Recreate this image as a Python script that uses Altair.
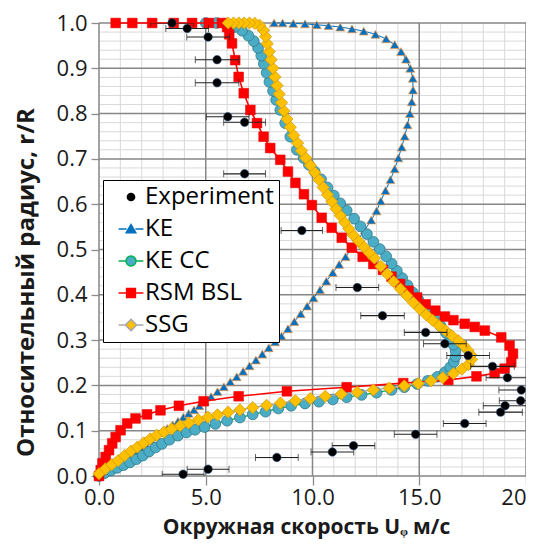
import altair as alt
import pandas as pd

# ---------------- data (u = tangential velocity m/s, r = r/R) ----------------
ke = [(0.0,0.0),(0.2,0.006),(0.45,0.013),(0.7,0.021),(0.95,0.029),(1.2,0.037),(1.45,0.045),
      (1.7,0.053),(1.95,0.061),(2.2,0.069),(2.45,0.078),(2.7,0.087),(2.95,0.096),(3.2,0.105),
      (3.45,0.113),(3.7,0.121),(3.95,0.13),(4.2,0.138),(4.45,0.146),(4.7,0.155),(4.95,0.165),
      (5.25,0.175),(5.55,0.186),(5.85,0.197),(6.15,0.208),(6.45,0.219),(6.75,0.231),(7.05,0.243),
      (7.35,0.256),(7.65,0.269),(7.95,0.283),(8.25,0.296),(8.55,0.309),(8.85,0.325),(9.15,0.341),
      (9.45,0.358),(9.75,0.375),(10.05,0.393),(10.35,0.411),(10.65,0.43),(10.95,0.449),(11.25,0.467),
      (11.55,0.484),(11.85,0.503),(12.15,0.523),(12.45,0.543),(12.75,0.565),(13.0,0.585),(13.2,0.607),
      (13.42,0.63),(13.65,0.654),(13.85,0.678),(14.02,0.702),(14.18,0.726),(14.32,0.75),(14.45,0.775),
      (14.56,0.8),(14.65,0.826),(14.71,0.852),(14.7,0.878),(14.58,0.9),(14.38,0.92),(14.15,0.937),
      (13.85,0.952),(13.45,0.965),(12.95,0.975),(12.4,0.982),(11.85,0.987),(11.3,0.991),(10.75,0.994),
      (10.2,0.996),(9.65,0.998),(9.1,0.999),(8.6,1.0),(8.2,1.0)]

ke_cc = [(0.0,0.0),(0.25,0.006),(0.55,0.012),(0.85,0.018),(1.15,0.024),(1.45,0.03),(1.75,0.037),
         (2.05,0.045),(2.35,0.054),(2.65,0.063),(2.95,0.071),(3.3,0.08),(3.7,0.089),(4.1,0.096),
         (4.5,0.102),(4.95,0.108),(5.45,0.115),(6.0,0.122),(6.6,0.129),(7.2,0.136),(7.8,0.142),
         (8.4,0.149),(9.0,0.155),(9.65,0.16),(10.3,0.164),(10.95,0.169),(11.6,0.174),(12.3,0.179),
         (13.0,0.184),(13.7,0.19),(14.3,0.196),(14.9,0.203),(15.4,0.21),(15.85,0.219),(16.2,0.229),
         (16.45,0.24),(16.62,0.252),(16.7,0.264),(16.7,0.277),(16.6,0.29),(16.45,0.303),(16.25,0.316),
         (16.0,0.331),(15.72,0.346),(15.42,0.362),(15.18,0.376),(14.95,0.39),(14.7,0.405),(14.45,0.421),
         (14.2,0.437),(13.95,0.453),(13.7,0.469),(13.45,0.485),(13.15,0.501),(12.85,0.517),(12.55,0.534),
         (12.25,0.551),(11.95,0.568),(11.6,0.586),(11.3,0.602),(11.0,0.619),(10.7,0.637),(10.4,0.655),
         (10.1,0.672),(9.83,0.687),(9.58,0.702),(9.27,0.72),(8.96,0.749),(8.72,0.779),(8.49,0.808),
         (8.3,0.83),(8.15,0.85),(7.98,0.87),(7.85,0.89),(7.72,0.91),(7.6,0.928),(7.45,0.945),
         (7.25,0.96),(7.0,0.972),(6.7,0.983),(6.35,0.991),(5.95,0.997),(5.5,1.0),(5.0,1.0)]

rsm_bsl = [(0.0,0.0),(0.08,0.013),(0.16,0.028),(0.31,0.042),(0.47,0.057),(0.62,0.072),(0.78,0.086),
           (1.01,0.101),(1.32,0.116),(1.71,0.127),(2.25,0.136),(2.88,0.145),(3.74,0.155),(4.9,0.165),
           (6.54,0.176),(8.8,0.187),(11.6,0.196),(14.25,0.205),(16.36,0.212),(17.68,0.22),(18.53,0.227),
           (19.0,0.237),(19.31,0.251),(19.39,0.27),(19.23,0.288),(18.84,0.306),(18.07,0.321),(17.6,0.329),
           (17.13,0.336),(16.6,0.344),(16.2,0.352),(15.75,0.365),(15.3,0.379),(14.9,0.394),(14.5,0.409),
           (14.1,0.424),(13.7,0.44),(13.3,0.455),(12.85,0.468),(12.35,0.484),(11.84,0.504),(11.37,0.526),
           (10.9,0.548),(10.43,0.57),(9.97,0.598),(9.6,0.622),(9.2,0.647),(8.85,0.672),(8.49,0.698),
           (8.02,0.724),(7.71,0.749),(7.4,0.779),(7.09,0.808),(6.78,0.845),(6.54,0.881),(6.38,0.918),
           (6.23,0.955),(6.1,0.975),(6.0,0.991),(5.76,1.0),(5.14,1.0),(4.36,1.0),(3.5,1.0),(2.49,1.0),
           (1.56,1.0),(0.78,1.0)]

ssg = [(0.0,0.005),(0.3,0.016),(0.6,0.025),(0.9,0.034),(1.2,0.045),(1.5,0.055),(1.8,0.064),
       (2.1,0.073),(2.4,0.082),(2.7,0.09),(3.05,0.097),(3.4,0.104),(3.8,0.111),(4.2,0.117),(4.65,0.124),
       (5.1,0.13),(5.55,0.135),(6.05,0.141),(6.6,0.146),(7.2,0.151),(7.85,0.156),(8.5,0.161),(9.2,0.166),
       (9.9,0.171),(10.6,0.176),(11.35,0.181),(12.1,0.185),(12.85,0.19),(13.6,0.194),(14.3,0.199),
       (14.95,0.204),(15.55,0.21),(16.1,0.217),(16.6,0.226),(17.0,0.236),(17.3,0.246),(17.45,0.257),
       (17.42,0.267),(17.28,0.277),(17.08,0.288),(16.82,0.299),(16.52,0.31),(16.22,0.321),(15.92,0.332),
       (15.62,0.344),(15.32,0.356),(15.02,0.369),(14.72,0.383),(14.42,0.398),(14.12,0.413),(13.8,0.429),
       (13.5,0.446),(13.2,0.463),(12.9,0.481),(12.65,0.493),(12.4,0.506),(12.15,0.519),(11.9,0.532),
       (11.7,0.546),(11.5,0.56),(11.3,0.575),(11.1,0.59),(10.9,0.606),(10.7,0.621),(10.5,0.637),
       (10.3,0.654),(10.1,0.67),(9.9,0.686),(9.68,0.702),(9.48,0.718),(9.3,0.735),(9.12,0.752),
       (8.96,0.77),(8.8,0.788),(8.66,0.806),(8.55,0.824),(8.44,0.843),(8.34,0.862),(8.24,0.881),
       (8.15,0.9),(8.06,0.919),(7.97,0.937),(7.88,0.954),(7.8,0.97),(7.7,0.984),(7.52,0.995),
       (7.3,0.999),(7.05,1.0),(6.8,1.0),(6.55,1.0),(6.3,1.0),(6.05,1.0)]

exp_u = [3.42,4.13,5.11,5.53,5.53,6.03,6.82,6.82,9.5,12.1,13.28,15.3,16.2,17.29,18.43,19.13,
         19.78,19.75,19.02,18.81,17.13,14.83,11.92,10.93,8.33,5.11,3.94]
exp_r = [1.0,0.988,0.969,0.919,0.868,0.793,0.781,0.667,0.542,0.416,0.354,0.317,0.292,0.266,0.242,
         0.217,0.19,0.166,0.155,0.141,0.116,0.092,0.067,0.053,0.041,0.015,0.004]
exp_err = [1.0,1.0,1.0,1.02,1.02,1.0,0.98,0.98,0.97,1.0,1.02,1.0,1.0,1.0,1.02,1.0,1.05,1.0,
           1.02,1.02,1.0,1.0,1.0,1.0,1.0,0.98,0.98]

x_major = [0, 5, 10, 15, 20]
y_major = [0.0, 0.1, 0.2, 0.3, 0.4, 0.5, 0.6, 0.7, 0.8, 0.9, 1.0]
x_minor = [v for v in range(0, 21) if v % 5 != 0]
y_minor = [round(k * 0.02, 2) for k in range(51) if k % 5 != 0]

series_names = ["Experiment", "KE", "KE CC", "RSM BSL", "SSG"]
legend_fill = ["#000000", "#0070C0", "#4BACC6", "#FF0000", "#FFC000"]
legend_line = ["#000000", "#0070C0", "#00B050", "#FF0000", "#A6A6A6"]
legend_shapes = [
    "M0.9,0A0.9,0.9 0 1,1 -0.9,0A0.9,0.9 0 1,1 0.9,0Z",
    "M-3.1,0H-1.1M1.1,0H3.1M0,-1.1L1.2,0.95H-1.2Z",
    "M-3.1,0H-1.25M1.25,0H3.1M1.25,0A1.25,1.25 0 1,1 -1.25,0A1.25,1.25 0 1,1 1.25,0Z",
    "M-3.1,0H-1.1M1.1,0H3.1M-1.1,-1.1H1.1V1.1H-1.1Z",
    "M-3.1,0H-1.4M1.4,0H3.1M0,-1.4L1.4,0L0,1.4L-1.4,0Z",
]

FONT = "Open Sans"
TXT = "#1a1a1a"
XS = alt.Scale(domain=[0, 20], nice=False, zero=False)
YS = alt.Scale(domain=[0, 1], nice=False, zero=False)

AX_X = alt.Axis(values=x_major, grid=False, domain=False, tickSize=9,
                labelExpr="datum.value == 20 ? '20' : format(datum.value, '.1f')",
                labelAlign={"condition": {"test": "datum.value == 20", "value": "right"},
                            "value": "center"},
                tickColor="#8c8c8c", tickWidth=1.3, labelFont=FONT, labelFontSize=22,
                labelColor=TXT, labelPadding=2, labelFlush=False, labelOverlap=False,
                title="Окружная скорость U\u1d69 м/с", titleFont=FONT, titleFontSize=21,
                titleFontWeight="bold", titleColor=TXT, titleX=207, titleY=57,
                titleAlign="center", titleBaseline="alphabetic")
AX_Y = alt.Axis(values=y_major, format=".1f", grid=False, domain=False, tickSize=8,
                tickColor="#8c8c8c", tickWidth=1.3, labelFont=FONT, labelFontSize=22,
                labelColor=TXT, labelPadding=4, labelFlush=False, labelOverlap=False,
                title="Относительный радиус, r/R", titleFont=FONT, titleFontSize=24,
                titleFontWeight="bold", titleColor=TXT, titleAngle=270, titleX=-66,
                titleY=259, titleAlign="center", titleBaseline="alphabetic")


def qx(f):
    return alt.X(f, type="quantitative", scale=XS, axis=AX_X)


def qy(f):
    return alt.Y(f, type="quantitative", scale=YS, axis=AX_Y)


def df_of(pairs):
    return pd.DataFrame({"u": [p[0] for p in pairs], "r": [p[1] for p in pairs],
                         "i": list(range(len(pairs)))})


layers = []

# minor grid
layers.append(alt.Chart(pd.DataFrame({"v": x_minor})).mark_rule(color="#d9d9d9", strokeWidth=1)
              .encode(x=qx("v")))
layers.append(alt.Chart(pd.DataFrame({"v": y_minor})).mark_rule(color="#d9d9d9", strokeWidth=1)
              .encode(y=qy("v")))
# major grid
layers.append(alt.Chart(pd.DataFrame({"v": x_major})).mark_rule(color="#868686", strokeWidth=1.5)
              .encode(x=qx("v")))
layers.append(alt.Chart(pd.DataFrame({"v": y_major})).mark_rule(color="#868686", strokeWidth=1.5)
              .encode(y=qy("v")))

# model series: line then markers
model_styles = [
    (ke, "#0070C0", 1.0, "triangle-up", 80, "#0070C0", "#F79646", 0.7),
    (ke_cc, "#00B050", 1.3, "circle", 115, "#4BACC6", "#31788A", 0.8),
    (rsm_bsl, "#FF0000", 1.6, "square", 95, "#FF0000", "#E00000", 0.5),
    (ssg, "#A6A6A6", 1.3, "diamond", 150, "#FFC000", "#C99700", 0.7),
]
for pairs, lcol, lw, shp, sz, fcol, scol, sw in model_styles:
    d = df_of(pairs)
    layers.append(alt.Chart(d).mark_line(color=lcol, strokeWidth=lw)
                  .encode(x=qx("u"), y=qy("r"), order=alt.Order("i:Q")))
    layers.append(alt.Chart(d).mark_point(filled=True, shape=shp, size=sz, fill=fcol, stroke=scol,
                                          strokeWidth=sw, opacity=1)
                  .encode(x=qx("u"), y=qy("r")))

# experiment with error bars
exp_df = pd.DataFrame({"u": exp_u, "r": exp_r, "err": exp_err})
exp_df["lo"] = exp_df["u"] - exp_df["err"]
exp_df["hi"] = exp_df["u"] + exp_df["err"]
caps = pd.DataFrame({"c": list(exp_df["lo"]) + list(exp_df["hi"]), "r": exp_r + exp_r})
layers.append(alt.Chart(exp_df).mark_rule(color="#222222", strokeWidth=1.1, clip=True)
              .encode(x=qx("lo"), x2="hi", y=qy("r")))
layers.append(alt.Chart(caps).mark_tick(color="#222222", orient="vertical", size=7, thickness=1,
                                        clip=True)
              .encode(x=qx("c"), y=qy("r")))
layers.append(alt.Chart(exp_df).mark_point(filled=True, shape="circle", size=72, fill="#000000",
                                           stroke="#2F4F7F", strokeWidth=0.6, opacity=1)
              .encode(x=qx("u"), y=qy("r")))

# legend carrier (no visible marks)
leg = alt.Legend(orient="none", legendX=4, legendY=157, fillColor="white", strokeColor="black",
                 padding=5, symbolSize=64, symbolStrokeWidth=1.5, symbolOffset=11,
                 labelOffset=2, labelFont=FONT, labelFontSize=24, labelColor="#000000",
                 rowPadding=8)
leg_df = pd.DataFrame({"series": series_names, "u": [0.0] * 5, "r": [0.0] * 5})
layers.append(alt.Chart(leg_df).transform_filter("false").mark_point(filled=True, opacity=1)
              .encode(x=qx("u"), y=qy("r"),
                      fill=alt.Fill("series:N", title=None,
                                    scale=alt.Scale(domain=series_names, range=legend_fill),
                                    legend=leg),
                      stroke=alt.Stroke("series:N", title=None,
                                        scale=alt.Scale(domain=series_names, range=legend_line),
                                        legend=leg),
                      shape=alt.Shape("series:N", title=None,
                                      scale=alt.Scale(domain=series_names, range=legend_shapes),
                                      legend=leg)))

chart = alt.layer(*layers).properties(
    width=427, height=453, autosize=alt.AutoSizeParams(type="none"),
    padding={"left": 91, "top": 15, "right": 0, "bottom": 64},
    background="white",
).configure_view(stroke=None)

chart.save("out.html", embed_options={"renderer": "svg", "actions": False})
